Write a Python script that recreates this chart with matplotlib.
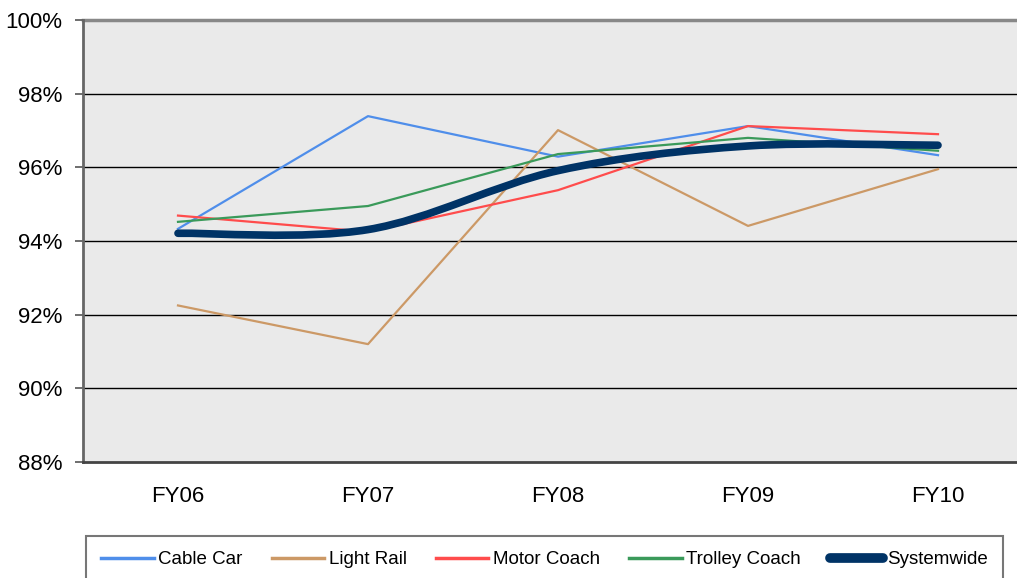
import matplotlib.pyplot as plt
from matplotlib.path import Path
from matplotlib.patches import PathPatch
from matplotlib.lines import Line2D

plt.rcParams['font.family'] = ['Liberation Sans', 'DejaVu Sans']

# Dados (%)
years = ['FY06', 'FY07', 'FY08', 'FY09', 'FY10']
cable_car = [94.33, 97.39, 96.29, 97.12, 96.33]
light_rail = [92.25, 91.20, 97.01, 94.41, 95.95]
motor_coach = [94.69, 94.25, 95.38, 97.12, 96.90]
trolley_coach = [94.52, 94.95, 96.36, 96.80, 96.45]
systemwide = [94.21, 94.31, 95.91, 96.58, 96.60]

series = [
    ('Cable Car', cable_car, '#4F8EEA'),
    ('Light Rail', light_rail, '#CC9966'),
    ('Motor Coach', motor_coach, '#FF4C4C'),
    ('Trolley Coach', trolley_coach, '#3A9A5A'),
]

W, H = 1017, 578
fig = plt.figure(figsize=(W / 100, H / 100), dpi=100)
ax = fig.add_axes([83 / W, (H - 462) / H, 950 / W, 442 / H])
ax.set_facecolor('#EAEAEA')

x = list(range(len(years)))
for name, vals, col in series:
    ax.plot(x, vals, color=col, linewidth=1.6, label=name, zorder=3)

# Linha suavizada (estilo Excel) para o total do sistema
pts = list(zip(x, systemwide))
verts = [pts[0]]
codes = [Path.MOVETO]
for i in range(len(pts) - 1):
    p0 = pts[i - 1] if i > 0 else pts[i]
    p1 = pts[i]
    p2 = pts[i + 1]
    p3 = pts[i + 2] if i + 2 < len(pts) else pts[i + 1]
    c1 = (p1[0] + (p2[0] - p0[0]) / 6, p1[1] + (p2[1] - p0[1]) / 6)
    c2 = (p2[0] - (p3[0] - p1[0]) / 6, p2[1] - (p3[1] - p1[1]) / 6)
    verts += [c1, c2, p2]
    codes += [Path.CURVE4] * 3
ax.add_patch(PathPatch(Path(verts, codes), facecolor='none', edgecolor='#003366',
                       linewidth=5.5, capstyle='round', joinstyle='round', zorder=4))

ax.set_xlim(-0.5, 4.5)
ax.set_ylim(88, 100)
ax.set_yticks(range(88, 101, 2))
ax.set_yticklabels([f'{v}%' for v in range(88, 101, 2)])
ax.set_xticks(x)
ax.set_xticklabels(years)
ax.tick_params(axis='y', length=6, width=1.2, color='#555555', labelsize=16, pad=9)
ax.tick_params(axis='x', length=0, labelsize=16, pad=17)

for v in range(90, 100, 2):
    ax.axhline(v, color='black', linewidth=1, zorder=1)
ax.axhline(100, color='#888888', linewidth=2.5, zorder=1, clip_on=False)

for s in ['top', 'right']:
    ax.spines[s].set_visible(False)
ax.spines['left'].set_color('#666666')
ax.spines['left'].set_linewidth(2)
ax.spines['bottom'].set_color('#444444')
ax.spines['bottom'].set_linewidth(2)

handles = [Line2D([], [], color=c, linewidth=2.5) for _, _, c in series]
handles.append(Line2D([], [], color='#003366', linewidth=7, solid_capstyle='round'))
labels = [s[0] for s in series] + ['Systemwide']
leg = fig.legend(handles, labels, loc='upper left', ncol=5,
                 bbox_to_anchor=(86 / W, 1 - 536 / H), fontsize=13.5,
                 frameon=True, fancybox=False, handlelength=2.8,
                 handletextpad=0.25, columnspacing=1.55, borderpad=0.8,
                 borderaxespad=0)
leg.get_frame().set_edgecolor('#555555')
leg.get_frame().set_linewidth(1.5)

fig.savefig('out.png', dpi=100)
